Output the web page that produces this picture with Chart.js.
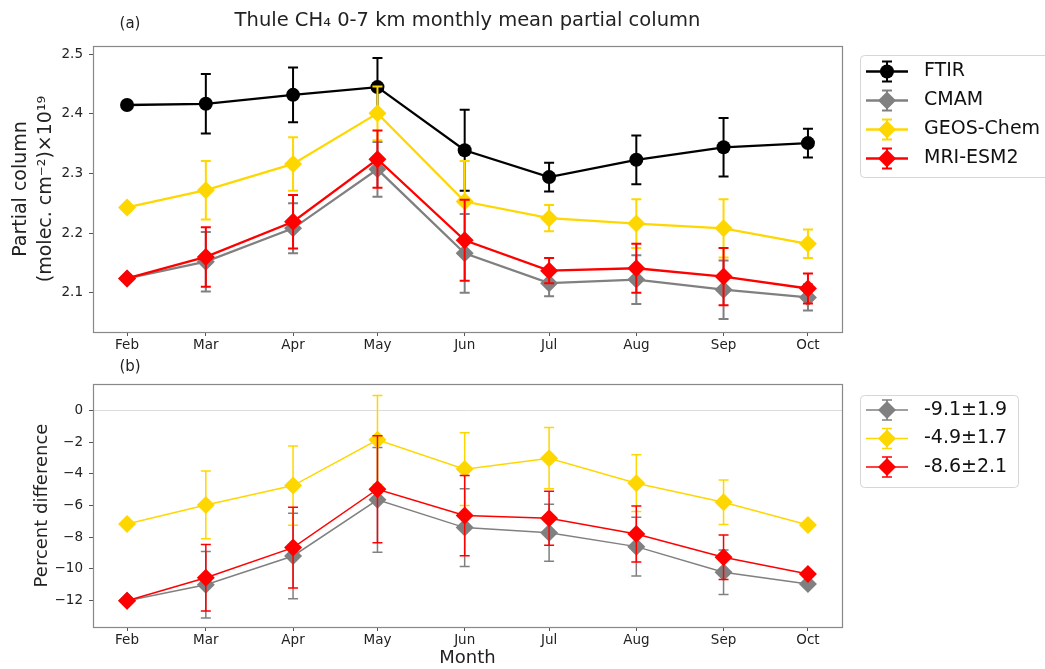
<!DOCTYPE html>
<html>
<head>
<meta charset="utf-8">
<title>Thule CH4 0-7 km partial column</title>
<script src="https://cdn.jsdelivr.net/npm/chart.js@4.4.1/dist/chart.umd.min.js"></script>
<style>
  html, body { margin: 0; padding: 0; background: #fff; }
  #wrap { position: relative; width: 1045px; height: 669px; overflow: hidden; }
  canvas { position: absolute; left: 0; }
  #colChart { top: 0; }
  #diffChart { top: 352px; }
</style>
</head>
<body>
<div id="wrap">
  <canvas id="colChart" width="1045" height="352"></canvas>
  <canvas id="diffChart" width="1045" height="317"></canvas>
</div>
<script>
// ===== Data =====
const monthLabels = ["Feb", "Mar", "Apr", "May", "Jun", "Jul", "Aug", "Sep", "Oct"];
const monthDays = [32, 60, 91, 121, 152, 182, 213, 244, 274]; // day of year, 1st of month

// (a) 0-7 km partial column, x1e19 molec/cm2, with 1-sigma
const ftirCol = [2.415, 2.417, 2.432, 2.445, 2.339, 2.294, 2.323, 2.344, 2.351];
const ftirErr = [0, 0.050, 0.046, 0.049, 0.068, 0.024, 0.041, 0.049, 0.024];
const cmamCol = [2.124, 2.152, 2.208, 2.307, 2.166, 2.116, 2.122, 2.105, 2.092];
const cmamErr = [0, 0.050, 0.042, 0.046, 0.066, 0.022, 0.041, 0.049, 0.022];
const geosCol = [2.243, 2.272, 2.316, 2.401, 2.253, 2.225, 2.216, 2.208, 2.182];
const geosErr = [0, 0.049, 0.045, 0.045, 0.068, 0.022, 0.041, 0.049, 0.024];
const mriCol = [2.124, 2.160, 2.219, 2.324, 2.188, 2.137, 2.141, 2.127, 2.107];
const mriErr = [0, 0.050, 0.045, 0.048, 0.068, 0.021, 0.041, 0.048, 0.025];

// (b) model minus FTIR, percent
const cmamDiff = [-12.0, -11.0, -9.18, -5.64, -7.39, -7.71, -8.59, -10.21, -10.95];
const cmamDiffErr = [0, 2.1, 2.7, 3.3, 2.45, 1.8, 1.85, 1.4, 0];
const geosDiff = [-7.16, -5.96, -4.74, -1.85, -3.70, -3.01, -4.59, -5.79, -7.22];
const geosDiffErr = [0, 2.14, 2.5, 2.8, 2.3, 1.93, 1.79, 1.4, 0];
const mriDiff = [-12.0, -10.55, -8.65, -4.97, -6.63, -6.80, -7.79, -9.26, -10.32];
const mriDiffErr = [0, 2.1, 2.55, 3.37, 2.53, 1.7, 1.77, 1.4, 0];

const seriesNames = ["FTIR", "CMAM", "GEOS-Chem", "MRI-ESM2"];
const diffLabels = ["-9.1±1.9", "-4.9±1.7", "-8.6±2.1"];

const colTicks = [2.1, 2.2, 2.3, 2.4, 2.5];
const diffTicks = [-12, -10, -8, -6, -4, -2, 0];

// ===== Helpers =====
const el = (id) => document.getElementById(id);
const pts = (vals) => monthDays.map((d, i) => ({ x: d, y: vals[i] }));
const FONT = "'DejaVu Sans', sans-serif";
const INK = "#222";

Chart.defaults.font.family = FONT;
Chart.defaults.color = INK;
Chart.defaults.animation = false;

const xFrom = 19.9, xTo = 286.1;

// vertical error bars with caps, drawn under each dataset's line/markers
const errorBars = {
  id: "errorBars",
  beforeDatasetDraw(chart, args, opts) {
    const ds = chart.data.datasets[args.index];
    if (!ds.errors) return;
    const { ctx, scales: { x, y } } = chart;
    ctx.save();
    ctx.strokeStyle = ds.borderColor;
    ctx.lineWidth = opts.width;
    ds.data.forEach((p, i) => {
      const e = ds.errors[i];
      if (!e) return;
      const px = x.getPixelForValue(p.x);
      const top = y.getPixelForValue(p.y + e);
      const bot = y.getPixelForValue(p.y - e);
      ctx.beginPath();
      ctx.moveTo(px, top); ctx.lineTo(px, bot);
      ctx.moveTo(px - opts.cap, top); ctx.lineTo(px + opts.cap, top);
      ctx.moveTo(px - opts.cap, bot); ctx.lineTo(px + opts.cap, bot);
      ctx.stroke();
    });
    ctx.restore();
  }
};

// box around the plot area
const frame = {
  id: "frame",
  afterDatasetsDraw(chart) {
    const { ctx, chartArea: a } = chart;
    ctx.save();
    ctx.strokeStyle = "#888";
    ctx.lineWidth = 1.2;
    ctx.strokeRect(Math.round(a.left) + 0.5, Math.round(a.top) + 0.5, Math.round(a.width), Math.round(a.height));
    ctx.restore();
  }
};

// "(a)" / "(b)"
const panelTag = {
  id: "panelTag",
  afterDraw(chart, args, opts) {
    const { ctx } = chart;
    ctx.save();
    ctx.font = `15px ${FONT}`;
    ctx.fillStyle = INK;
    ctx.textAlign = "center";
    ctx.textBaseline = "middle";
    ctx.fillText(opts.text, opts.x, opts.y);
    ctx.restore();
  }
};

// legend with errorbar handles
const errLegend = {
  id: "errLegend",
  afterDraw(chart, args, opts) {
    const { ctx } = chart;
    const sets = chart.data.datasets;
    ctx.save();
    ctx.beginPath();
    ctx.roundRect(opts.x + 0.5, opts.y + 0.5, opts.w, opts.h, 4);
    ctx.fillStyle = "rgba(255,255,255,0.9)";
    ctx.fill();
    ctx.strokeStyle = "#d6d6d6";
    ctx.lineWidth = 1;
    ctx.stroke();

    ctx.font = `19px ${FONT}`;
    ctx.textBaseline = "middle";
    sets.forEach((ds, i) => {
      const cy = opts.y + opts.first + i * opts.step;
      const x0 = opts.x + 6, x1 = opts.x + 48, cx = opts.x + 27;
      ctx.strokeStyle = ds.borderColor;
      ctx.lineWidth = ds.borderWidth;
      ctx.beginPath();
      ctx.moveTo(x0, cy); ctx.lineTo(x1, cy);
      ctx.stroke();
      ctx.lineWidth = opts.barWidth;
      ctx.beginPath();
      ctx.moveTo(cx, cy - 10); ctx.lineTo(cx, cy + 10);
      ctx.moveTo(cx - 5, cy - 10); ctx.lineTo(cx + 5, cy - 10);
      ctx.moveTo(cx - 5, cy + 10); ctx.lineTo(cx + 5, cy + 10);
      ctx.stroke();
      ctx.fillStyle = ds.backgroundColor;
      Chart.helpers.drawPoint(ctx, { pointStyle: ds.pointStyle, radius: ds.pointRadius, rotation: 0, borderWidth: 0 }, cx, cy);
      ctx.fillStyle = "#111";
      ctx.fillText(ds.label, opts.x + 64, cy);
    });
    ctx.restore();
  }
};

function monthAxis(height, title) {
  return {
    type: "linear",
    min: xFrom,
    max: xTo,
    afterBuildTicks: (axis) => { axis.ticks = monthDays.map((v) => ({ value: v })); },
    afterFit: (axis) => { axis.height = height; },
    ticks: {
      autoSkip: false,
      maxRotation: 0,
      padding: 1,
      font: { size: 13.5 },
      callback: (v) => monthLabels[monthDays.indexOf(v)] ?? ""
    },
    grid: { drawOnChartArea: false, tickLength: 4, tickColor: "#555" },
    border: { display: false },
    title: title
      ? { display: true, text: title, font: { size: 18 }, padding: { top: 0, bottom: 0.2 }, color: INK }
      : { display: false }
  };
}

function lineSet(label, vals, errs, color, style, width, order) {
  return {
    label,
    data: pts(vals),
    errors: errs,
    borderColor: color,
    backgroundColor: color,
    borderWidth: width,
    pointStyle: style,
    pointRadius: style === "circle" ? 7 : 9,
    pointBorderWidth: 0,
    pointHoverRadius: style === "circle" ? 7 : 9,
    tension: 0,
    order
  };
}

// ===== (a) partial column =====
new Chart(el("colChart"), {
  type: "line",
  data: {
    datasets: [
      lineSet(seriesNames[0], ftirCol, ftirErr, "#000000", "circle", 2.3, 4),
      lineSet(seriesNames[1], cmamCol, cmamErr, "#808080", "rectRot", 2.3, 3),
      lineSet(seriesNames[2], geosCol, geosErr, "#FFD700", "rectRot", 2.3, 2),
      lineSet(seriesNames[3], mriCol, mriErr, "#FF0000", "rectRot", 2.3, 1)
    ]
  },
  options: {
    responsive: false,
    events: [],
    layout: { padding: { left: 0, right: 203, top: 0, bottom: 0 } },
    scales: {
      x: monthAxis(20, null),
      y: {
        min: 2.034,
        max: 2.514,
        afterBuildTicks: (axis) => { axis.ticks = colTicks.map((v) => ({ value: v })); },
        afterFit: (axis) => { axis.width = 93; },
        ticks: { padding: 6, font: { size: 13.5 }, callback: (v) => Number(v).toFixed(1) },
        grid: { drawOnChartArea: false, tickLength: 4, tickColor: "#555" },
        border: { display: false },
        title: {
          display: true,
          text: ["Partial column", "(molec. cm\u207B\u00B2)\u00D710\u00B9\u2079"],
          font: { size: 19, lineHeight: 1.33 },
          padding: { top: 8.4, bottom: 0 },
          color: INK
        }
      }
    },
    plugins: {
      legend: { display: false },
      tooltip: { enabled: false },
      title: {
        display: true,
        text: "Thule CH\u2084 0-7 km monthly mean partial column",
        fullSize: false,
        color: INK,
        font: { size: 19.5, weight: "normal" },
        padding: { top: 8.8, bottom: 13.8 }
      },
      errorBars: { width: 2, cap: 5 },
      panelTag: { text: "(a)", x: 130, y: 24 },
      errLegend: { x: 860, y: 55, w: 200, h: 122, first: 16.5, step: 29, barWidth: 2 }
    }
  },
  plugins: [errorBars, frame, panelTag, errLegend]
});

// ===== (b) percent difference =====
new Chart(el("diffChart"), {
  type: "line",
  data: {
    datasets: [
      lineSet(diffLabels[0], cmamDiff, cmamDiffErr, "#808080", "rectRot", 1.5, 3),
      lineSet(diffLabels[1], geosDiff, geosDiffErr, "#FFD700", "rectRot", 1.5, 2),
      lineSet(diffLabels[2], mriDiff, mriDiffErr, "#FF0000", "rectRot", 1.5, 1)
    ]
  },
  options: {
    responsive: false,
    events: [],
    layout: { padding: { left: 0, right: 203, top: 32, bottom: 0 } },
    scales: {
      x: monthAxis(42, "Month"),
      y: {
        min: -13.66,
        max: 1.67,
        afterBuildTicks: (axis) => { axis.ticks = diffTicks.map((v) => ({ value: v })); },
        afterFit: (axis) => { axis.width = 93; },
        ticks: {
          padding: 6,
          font: { size: 13.5 },
          callback: (v) => (v < 0 ? "\u2212" + Math.abs(v) : String(v))
        },
        grid: {
          drawOnChartArea: true,
          tickLength: 4,
          tickColor: "#555",
          color: (c) => (c.tick && c.tick.value === 0 ? "#dcdcdc" : "rgba(0,0,0,0)")
        },
        border: { display: false },
        title: {
          display: true,
          text: "Percent difference",
          font: { size: 18 },
          padding: { top: 31.2, bottom: 0 },
          color: INK
        }
      }
    },
    plugins: {
      legend: { display: false },
      tooltip: { enabled: false },
      errorBars: { width: 1.5, cap: 5 },
      panelTag: { text: "(b)", x: 130, y: 15 },
      errLegend: { x: 860, y: 43, w: 158, h: 92, first: 15, step: 28.5, barWidth: 1.5 }
    }
  },
  plugins: [errorBars, frame, panelTag, errLegend]
});
</script>
</body>
</html>
